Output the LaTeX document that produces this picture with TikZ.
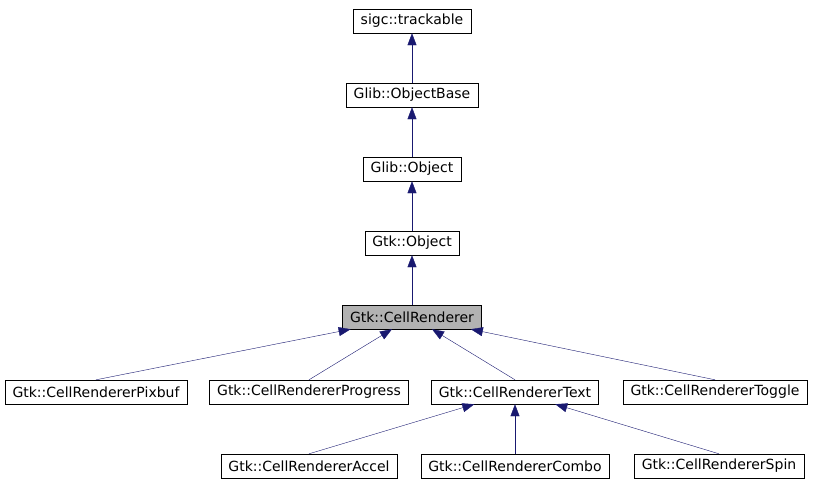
\documentclass[tikz,border=0pt]{standalone}
\usepackage{fontspec}
\setmainfont{DejaVu Sans}
\usetikzlibrary{arrows.meta}
\definecolor{edgeblue}{RGB}{25,25,112}
\tikzset{
  cls/.style={draw=black, fill=white, inner xsep=7.5pt, inner ysep=0pt, minimum height=24pt, font=\fontsize{14}{16}\selectfont},
  cur/.style={cls, fill=black!30},
  inh/.style={draw=edgeblue, -{Triangle[width=9pt,length=12pt]}}
}
\begin{document}
\begin{tikzpicture}[x=1pt,y=-1pt]
\useasboundingbox (0,0) rectangle (813,485);
\node[cls] (track) at (412,21) {sigc::trackable};
\node[cls] (objbase) at (412,95) {Glib::ObjectBase};
\node[cls] (gobj) at (412,169) {Glib::Object};
\node[cls] (gtkobj) at (412,243) {Gtk::Object};
\node[cur] (cell) at (412,317) {Gtk::CellRenderer};
\node[cls] (pixbuf) at (96,392) {Gtk::CellRendererPixbuf};
\node[cls] (progress) at (309,392) {Gtk::CellRendererProgress};
\node[cls] (text) at (515,392) {Gtk::CellRendererText};
\node[cls] (toggle) at (715,392) {Gtk::CellRendererToggle};
\node[cls] (accel) at (309,466) {Gtk::CellRendererAccel};
\node[cls] (combo) at (515,466) {Gtk::CellRendererCombo};
\node[cls] (spin) at (719,466) {Gtk::CellRendererSpin};

\draw[inh] (objbase) -- (track);
\draw[inh] (gobj) -- (objbase);
\draw[inh] (gtkobj) -- (gobj);
\draw[inh] (cell) -- (gtkobj);
\draw[inh] (pixbuf.north) -- (cell);
\draw[inh] (progress.north) -- (cell);
\draw[inh] (text.north) -- (cell);
\draw[inh] (toggle.north) -- (cell);
\draw[inh] (accel.north) -- (text);
\draw[inh] (combo) -- (text);
\draw[inh] (spin.north) -- (text);
\end{tikzpicture}
\end{document}
